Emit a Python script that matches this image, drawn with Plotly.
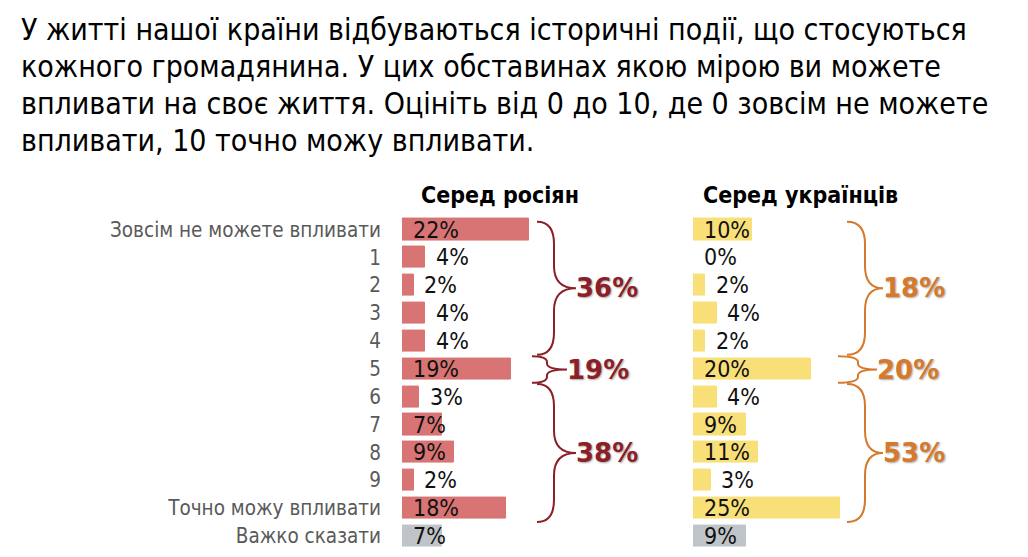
import plotly.graph_objects as go

# ---------------- data ----------------
categories = ["Зовсім не можете впливати", "1", "2", "3", "4", "5", "6", "7", "8", "9",
              "Точно можу впливати", "Важко сказати"]
russians = [22, 4, 2, 4, 4, 19, 3, 7, 9, 2, 18, 7]
ukrainians = [10, 0, 2, 4, 2, 20, 4, 9, 11, 3, 25, 9]

group_rows = [(0, 4), (5, 5), (6, 10)]          # rows covered by each brace
russians_groups = ["36%", "19%", "38%"]
ukrainians_groups = ["18%", "20%", "53%"]

title_lines = [
    "У житті нашої країни відбуваються історичні події, що стосуються",
    "кожного громадянина. У цих обставинах якою мірою ви можете",
    "впливати на своє життя. Оцініть від 0 до 10, де 0 зовсім не можете",
    "впливати, 10 точно можу впливати.",
]
header_left = "Серед росіян"
header_right = "Серед українців"

# ---------------- style ----------------
OFF = 8                      # default body margin of the page
W, H = 1028 - 2 * OFF, 557 - 2 * OFF
FONT = "DejaVu Sans Condensed, DejaVu Sans, sans-serif"
RED = "#D97474"
YELLOW = "#F9DF78"
GRAY = "#BFC4C8"
RED_DARK = "#8C1F27"
ORANGE = "#D5792C"

def px(X):
    return (X - OFF) / W

def py(Y):
    return 1 - (Y - OFF) / H

n = len(categories)
ypos = list(range(n))

def colors(base):
    return [base] * (n - 1) + [GRAY]

fig = go.Figure()
fig.add_trace(go.Bar(x=russians, y=ypos, orientation="h", xaxis="x", yaxis="y",
                     marker=dict(color=colors(RED), line=dict(color=colors(RED), width=1)),
                     width=0.76, hoverinfo="skip"))
fig.add_trace(go.Bar(x=ukrainians, y=ypos, orientation="h", xaxis="x2", yaxis="y2",
                     marker=dict(color=colors(YELLOW), line=dict(color=colors(YELLOW), width=1)),
                     width=0.76, hoverinfo="skip"))

# pixel geometry -> domains (window pixel coordinates)
L0, LPX = 402, 5.75
R0, RPX = 693, 5.88
LMAX, RMAX = 41, 45
row0_px, pitch = 229.5, 27.86
ytop = row0_px - 0.5 * pitch
ybot = min(row0_px + (n - 0.5) * pitch, OFF + H)
ybot_val = (ybot - row0_px) / pitch

ydom = [py(ybot), py(ytop)]
yrange = [ybot_val, -0.5]
fig.update_layout(
    width=W, height=H,
    margin=dict(l=0, r=0, t=0, b=0, pad=0),
    paper_bgcolor="white", plot_bgcolor="white",
    showlegend=False,
    bargap=0,
    xaxis=dict(domain=[px(L0), px(L0 + LMAX * LPX)], range=[0, LMAX], visible=False, fixedrange=True),
    xaxis2=dict(domain=[px(R0), px(R0 + RMAX * RPX)], range=[0, RMAX], visible=False, fixedrange=True),
    yaxis=dict(domain=ydom, range=yrange, tickvals=ypos, ticktext=categories,
               showgrid=False, zeroline=False, showline=False, ticks="",
               ticklabelstandoff=20,
               tickfont=dict(family=FONT, size=20.5, color="#5A5A5A"), fixedrange=True),
    yaxis2=dict(domain=ydom, range=yrange, anchor="x2", visible=False, fixedrange=True),
)

annotations = []
# value labels
for vals, xr in ((russians, "x"), (ukrainians, "x2")):
    for i, v in enumerate(vals):
        xv = 1.5 if v >= 5 else v + 1.5
        annotations.append(dict(x=xv, y=i, xref=xr, yref="y", text=f"{v}%", showarrow=False,
                                xanchor="left", yanchor="middle",
                                font=dict(family=FONT, size=23, color="#111111")))

# braces
shapes = []
def brace(r0, r1, xa, xv, xt, color, xr, yr):
    y0, y1 = r0 - 0.45, r1 + 0.5
    if r0 == 0:
        y0 = -0.28
    ym = (y0 + y1) / 2
    r = min(0.8, (ym - y0) / 2.2)
    path = (f"M {xa},{y0} Q {xv},{y0} {xv},{y0 + r} L {xv},{ym - r} "
            f"Q {xv},{ym} {xt},{ym} Q {xv},{ym} {xv},{ym + r} L {xv},{y1 - r} "
            f"Q {xv},{y1} {xa},{y1}")
    shapes.append(dict(type="path", path=path, xref=xr, yref=yr,
                       line=dict(color=color, width=2), layer="above"))
    return ym

LABFONT = "DejaVu Sans, sans-serif"
for (r0, r1), lab in zip(group_rows, russians_groups):
    small = r0 == r1
    xa, xv, xt = ((532 - L0) / LPX, (547 - L0) / LPX, (567 - L0) / LPX) if small else \
                 ((537 - L0) / LPX, (554 - L0) / LPX, (576 - L0) / LPX)
    ym = brace(r0, r1, xa, xv, xt, RED_DARK, "x", "y")
    annotations.append(dict(x=xt - 0.3, y=ym, xref="x", yref="y", text=f"<b>{lab}</b>",
                            showarrow=False, xanchor="left", yanchor="middle",
                            font=dict(family=LABFONT, size=26, color=RED_DARK,
                                      shadow="1px 1px 2px rgba(0,0,0,0.35)")))

for (r0, r1), lab in zip(group_rows, ukrainians_groups):
    small = r0 == r1
    xa, xv, xt = ((838 - R0) / RPX, (858 - R0) / RPX, (877 - R0) / RPX) if small else \
                 ((847 - R0) / RPX, (865 - R0) / RPX, (883 - R0) / RPX)
    ym = brace(r0, r1, xa, xv, xt, ORANGE, "x2", "y2")
    annotations.append(dict(x=xt - 0.3, y=ym, xref="x2", yref="y2", text=f"<b>{lab}</b>",
                            showarrow=False, xanchor="left", yanchor="middle",
                            font=dict(family=LABFONT, size=26, color=ORANGE,
                                      shadow="1px 1px 2px rgba(0,0,0,0.35)")))

# headers
for txt, cx in ((header_left, 500), (header_right, 800)):
    annotations.append(dict(x=px(cx), y=py(195), xref="paper", yref="paper",
                            text=f"<b>{txt}</b>", showarrow=False, xanchor="center", yanchor="middle",
                            font=dict(family=FONT, size=23, color="#000000")))

# title
for k, line in enumerate(title_lines):
    cy = 30 + k * 36.7
    annotations.append(dict(x=px(19), y=py(cy), xref="paper", yref="paper", text=line,
                            showarrow=False, xanchor="left", yanchor="middle",
                            font=dict(family=FONT, size=30, color="#000000")))

fig.update_layout(annotations=annotations, shapes=shapes)
fig.write_html("out.html")
